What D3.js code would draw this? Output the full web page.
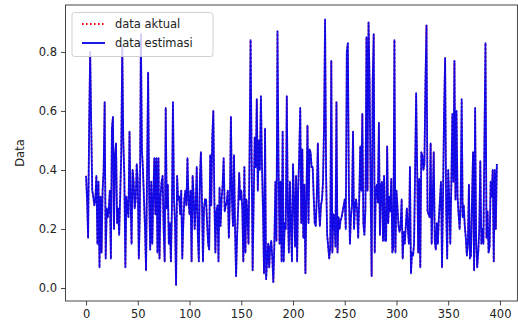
<!DOCTYPE html>
<html>
<head>
<meta charset="utf-8">
<script src="https://cdn.jsdelivr.net/npm/d3@7"></script>
<style>
  html, body { margin: 0; padding: 0; background: #fff; }
  svg { display: block; font-family: "DejaVu Sans", sans-serif; }
</style>
</head>
<body>
<svg id="chart" width="518" height="324"></svg>
<script>
// ---- data ----
const dataAktual = [
  0.38,0.30,0.17,0.55,0.80,0.55,0.33,0.31,0.28,0.30,
  0.38,0.15,0.36,0.07,0.31,0.12,0.33,0.40,0.63,0.10,
  0.27,0.24,0.27,0.33,0.10,0.54,0.58,0.20,0.45,0.49,
  0.22,0.27,0.18,0.31,0.45,0.82,0.50,0.38,0.07,0.31,
  0.27,0.24,0.53,0.30,0.15,0.40,0.36,0.27,0.30,0.42,
  0.36,0.10,0.25,0.86,0.47,0.40,0.30,0.20,0.06,0.40,
  0.73,0.31,0.13,0.36,0.15,0.31,0.44,0.25,0.44,0.12,
  0.44,0.10,0.31,0.36,0.38,0.20,0.09,0.61,0.27,0.35,
  0.15,0.22,0.09,0.27,0.63,0.30,0.22,0.01,0.38,0.30,
  0.31,0.25,0.33,0.10,0.22,0.30,0.33,0.28,0.44,0.30,
  0.25,0.33,0.09,0.38,0.31,0.20,0.28,0.41,0.18,0.09,
  0.37,0.46,0.30,0.09,0.27,0.30,0.30,0.22,0.15,0.13,
  0.45,0.28,0.51,0.60,0.30,0.12,0.26,0.28,0.09,0.34,
  0.21,0.30,0.35,0.44,0.26,0.28,0.29,0.33,0.17,0.30,
  0.58,0.30,0.21,0.45,0.20,0.04,0.18,0.27,0.39,0.30,
  0.33,0.27,0.09,0.41,0.12,0.30,0.25,0.15,0.45,0.84,
  0.45,0.06,0.30,0.51,0.41,0.64,0.33,0.50,0.40,0.65,
  0.42,0.26,0.05,0.54,0.03,0.09,0.15,0.07,0.14,0.16,
  0.10,0.02,0.15,0.36,0.16,0.87,0.42,0.15,0.36,0.09,
  0.53,0.09,0.22,0.20,0.65,0.26,0.12,0.36,0.20,0.09,
  0.42,0.30,0.14,0.38,0.09,0.33,0.45,0.61,0.22,0.47,
  0.17,0.35,0.05,0.31,0.55,0.22,0.47,0.46,0.41,0.41,
  0.31,0.22,0.21,0.31,0.49,0.28,0.21,0.28,0.30,0.36,
  0.55,0.91,0.38,0.18,0.14,0.10,0.14,0.77,0.12,0.25,
  0.24,0.14,0.63,0.12,0.24,0.20,0.23,0.24,0.26,0.28,
  0.30,0.20,0.80,0.83,0.33,0.15,0.24,0.28,0.53,0.20,
  0.28,0.30,0.26,0.17,0.30,0.48,0.33,0.59,0.22,0.18,
  0.27,0.85,0.33,0.90,0.70,0.33,0.04,0.70,0.86,0.12,
  0.33,0.35,0.29,0.56,0.18,0.35,0.36,0.16,0.38,0.16,
  0.16,0.48,0.22,0.31,0.26,0.37,0.12,0.14,0.84,0.12,
  0.33,0.27,0.21,0.19,0.21,0.30,0.10,0.19,0.15,0.21,
  0.27,0.20,0.15,0.41,0.05,0.12,0.11,0.15,0.40,0.66,
  0.40,0.12,0.37,0.07,0.46,0.45,0.40,0.42,0.70,0.89,
  0.26,0.25,0.24,0.49,0.15,0.30,0.46,0.16,0.13,0.22,
  0.15,0.24,0.30,0.36,0.07,0.31,0.60,0.78,0.27,0.10,
  0.40,0.30,0.15,0.35,0.59,0.36,0.77,0.30,0.60,0.31,
  0.25,0.20,0.28,0.64,0.24,0.28,0.21,0.17,0.11,0.15,
  0.35,0.10,0.11,0.30,0.46,0.06,0.61,0.15,0.07,0.12,
  0.20,0.43,0.15,0.20,0.15,0.50,0.83,0.17,0.26,0.12,
  0.14,0.36,0.31,0.40,0.09,0.40,0.20,0.42
];
// estimation coincides with actual data at this resolution
const dataEstimasi = dataAktual;
const xTicks = [0, 50, 100, 150, 200, 250, 300, 350, 400];
const yTicks = [0.0, 0.2, 0.4, 0.6, 0.8];
const seriesNames = ["data aktual", "data estimasi"];
const yLabel = "Data";

// ---- layout ----
const svg = d3.select("#chart");
const L = 65.5, R = 517.4, T = 5, B = 301;
const n = dataAktual.length;
const span = n - 1;
const x = d3.scaleLinear().domain([-0.05 * span, span * 1.05]).range([L, R]);
const y = d3.scaleLinear().domain([-0.044, 0.959]).range([B, T]);

const line = d3.line().x((d, i) => x(i)).y(d => y(d));

svg.append("clipPath").attr("id", "plotclip")
  .append("rect").attr("x", L).attr("y", T).attr("width", R - L).attr("height", B - T);

const g = svg.append("g").attr("clip-path", "url(#plotclip)");
g.append("path").datum(dataAktual)
  .attr("d", line).attr("fill", "none")
  .attr("stroke", "#ff0000").attr("stroke-width", 1.8)
  .attr("stroke-dasharray", "1.5,2.5");
g.append("path").datum(dataEstimasi)
  .attr("d", line).attr("fill", "none")
  .attr("stroke", "#0000ee").attr("stroke-width", 1.8)
  .attr("stroke-opacity", 0.92)
  .attr("stroke-linejoin", "round");

// axes
const xAxis = d3.axisBottom(x).tickValues(xTicks).tickSize(4.5).tickPadding(4)
  .tickFormat(d3.format("d"));
const yAxis = d3.axisLeft(y).tickValues(yTicks).tickSize(4.5).tickPadding(4)
  .tickFormat(d3.format(".1f"));

const gx = svg.append("g").attr("transform", `translate(0,${B})`).call(xAxis);
const gy = svg.append("g").attr("transform", `translate(${L},0)`).call(yAxis);
[gx, gy].forEach(a => {
  a.select(".domain").remove();
  a.selectAll(".tick line").attr("stroke", "#333").attr("stroke-width", 0.9);
  a.selectAll(".tick text").attr("fill", "#222").style("font-size", "11.5px")
    .style("font-family", "'DejaVu Sans', sans-serif");
});

// frame
svg.append("rect").attr("x", L).attr("y", T).attr("width", R - L).attr("height", B - T)
  .attr("fill", "none").attr("stroke", "#333").attr("stroke-width", 0.9);

// y label
svg.append("text").attr("transform", `translate(24,${(T + B) / 2}) rotate(-90)`)
  .attr("text-anchor", "middle").attr("fill", "#222")
  .style("font-size", "11.5px").text(yLabel);

// legend
const lg = svg.append("g");
lg.append("rect").attr("x", 72).attr("y", 12.5).attr("width", 141).attr("height", 44)
  .attr("rx", 2.5).attr("fill", "#fff").attr("fill-opacity", 0.8)
  .attr("stroke", "#ccc").attr("stroke-width", 0.9);
const legendItems = [
  { name: seriesNames[0], color: "#ff0000", dash: "1.5,2.5", yy: 24 },
  { name: seriesNames[1], color: "#0000ee", dash: null, yy: 43 }
];
legendItems.forEach(it => {
  lg.append("line").attr("x1", 82).attr("x2", 105).attr("y1", it.yy).attr("y2", it.yy)
    .attr("stroke", it.color).attr("stroke-width", 1.8)
    .attr("stroke-dasharray", it.dash);
  lg.append("text").attr("x", 115).attr("y", it.yy + 4)
    .attr("fill", "#222").style("font-size", "11.5px").text(it.name);
});
</script>
</body>
</html>
